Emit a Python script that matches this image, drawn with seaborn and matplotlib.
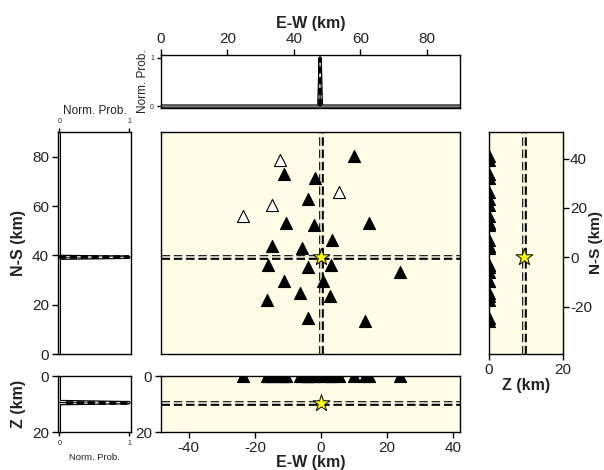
import numpy as np
import pandas as pd
import seaborn as sns
import matplotlib
matplotlib.use("Agg")
import matplotlib.pyplot as plt

sns.set_style("ticks")
plt.rcParams['font.family'] = ['Liberation Sans', 'DejaVu Sans']
plt.rcParams['axes.unicode_minus'] = False
for key in ['text.color', 'axes.labelcolor', 'xtick.color', 'ytick.color']:
    plt.rcParams[key] = '#222222'

# --- data ---
# stations, relative to the epicentre (km)
sta_ew = [9.9, -11.3, -1.9, -3.9, -10.5, -2.0, 14.5, 3.3, -14.8, -5.8, -16.1,
          -4.0, 2.9, 23.8, -11.2, 0.6, -6.3, 2.6, -16.4, -3.9, 13.3,
          -12.3, 5.5, -14.8, -23.5]
sta_ns = [40.9, 33.7, 32.1, 23.6, 13.9, 13.2, 13.9, 7.1, 4.7, 3.8, -3.1,
          -4.0, -3.1, -6.1, -9.7, -9.5, -14.5, -15.8, -17.2, -24.7, -25.8,
          39.5, 26.3, 21.2, 16.8]
sta_used = [True] * 21 + [False] * 4
sta_z = [0.0] * 25

# hypocentre
epi_ew, epi_ns, epi_z = 0.0, 0.0, 9.5
ew_abs, ns_abs = 47.9, 39.2   # absolute position in grid coordinates

# marginal probabilities
ew_grid = [0, 47.5, 47.9, 48.3, 90]
ew_prob = [0, 0, 1, 0, 0]
ns_grid = [0, 38.8, 39.2, 39.6, 90]
ns_prob = [0, 0, 1, 0, 0]
z_grid = [0, 9.1, 9.5, 9.9, 20]
z_prob = [0, 0, 1, 0, 0]

bg = '#FFFDE6'
ns_lim = (-ns_abs, 90 - ns_abs)
ew_lim = (-48.4, 42.0)

df_sta = pd.DataFrame({'ew': sta_ew, 'ns': sta_ns, 'z': sta_z, 'used': sta_used})
used = df_sta[df_sta.used]
unused = df_sta[~df_sta.used]

W, H = 604, 470
def box(x0, y0, x1, y1):
    return [x0 / W, 1 - y1 / H, (x1 - x0) / W, (y1 - y0) / H]

fig = plt.figure(figsize=(6.04, 4.70), dpi=100)
ax_main = fig.add_axes(box(161, 132, 460, 354))
ax_top = fig.add_axes(box(161, 55, 460, 108))
ax_left = fig.add_axes(box(58, 132, 131, 354))
ax_right = fig.add_axes(box(489, 132, 563, 354))
ax_bot = fig.add_axes(box(161, 376, 460, 432))
ax_bl = fig.add_axes(box(58, 376, 131, 432))


def crosshair(ax, vertical, val):
    f = ax.axvline if vertical else ax.axhline
    f(val, color='k', lw=3.4, dashes=(1.8, 0.8), zorder=1)
    f(val, color=bg, lw=1.1, zorder=1.1)


def stations(ax, x, y, mark_unused=True):
    kw = dict(marker='^', s=75, edgecolor='k', linewidth=0.8, zorder=3, legend=False)
    if mark_unused:
        sns.scatterplot(x=used[x], y=used[y], ax=ax, color='k', **kw)
        sns.scatterplot(x=unused[x], y=unused[y], ax=ax, color='white', **kw)
    else:
        sns.scatterplot(x=df_sta[x], y=df_sta[y], ax=ax, color='k', **kw)


def star(ax, x, y):
    ax.scatter([x], [y], marker='*', s=160, c='yellow', edgecolors='k',
               linewidths=0.7, zorder=4)


def pdf(ax, x, y, horizontal):
    if horizontal:
        sns.lineplot(x=x, y=y, ax=ax, color='k', lw=2.4, sort=False, estimator=None)
        sns.lineplot(x=x, y=y, ax=ax, color='white', lw=0.6, sort=False, estimator=None)
    else:
        sns.lineplot(x=y, y=x, ax=ax, color='k', lw=2.4, sort=False, estimator=None, orient='y')
        sns.lineplot(x=y, y=x, ax=ax, color='white', lw=0.6, sort=False, estimator=None, orient='y')


# main map view
for ax in [ax_main, ax_right, ax_bot]:
    ax.set_facecolor(bg)
crosshair(ax_main, True, epi_ew)
crosshair(ax_main, False, epi_ns)
stations(ax_main, 'ew', 'ns')
star(ax_main, epi_ew, epi_ns)
ax_main.set_xlim(*ew_lim)
ax_main.set_ylim(*ns_lim)
ax_main.set_xticks([])
ax_main.set_yticks([])
ax_main.set_xlabel('')
ax_main.set_ylabel('')

# depth vs N-S (right)
crosshair(ax_right, True, epi_z)
stations(ax_right, 'z', 'ns', mark_unused=False)
star(ax_right, epi_z, epi_ns)
ax_right.set_xlim(0, 20)
ax_right.set_ylim(*ns_lim)
ax_right.set_xticks([0, 20])
ax_right.set_yticks([-20, 0, 20, 40])
ax_right.yaxis.tick_right()
ax_right.yaxis.set_label_position('right')
ax_right.set_xlabel('Z (km)', fontsize=11.5, fontweight='bold', labelpad=1)
ax_right.set_ylabel('N-S (km)', fontsize=11, fontweight='bold', labelpad=-2)

# depth vs E-W (bottom)
crosshair(ax_bot, False, epi_z)
stations(ax_bot, 'ew', 'z', mark_unused=False)
star(ax_bot, epi_ew, epi_z)
ax_bot.set_xlim(*ew_lim)
ax_bot.set_ylim(20, 0)
ax_bot.set_xticks([-40, -20, 0, 20, 40])
ax_bot.set_yticks([0, 20])
ax_bot.set_xlabel('E-W (km)', fontsize=11.5, fontweight='bold', labelpad=0)
ax_bot.set_ylabel('')

# marginal E-W (top)
pdf(ax_top, ew_grid, ew_prob, True)
ax_top.plot([ew_abs, ew_abs], [0, 1], color='k', lw=2.6, dashes=(2, 1))
ax_top.set_xlim(0, 90)
ax_top.set_ylim(-0.04, 1.06)
ax_top.xaxis.tick_top()
ax_top.xaxis.set_label_position('top')
ax_top.set_xticks([0, 20, 40, 60, 80])
ax_top.set_yticks([0, 1])
ax_top.set_xlabel('E-W (km)', fontsize=11.5, fontweight='bold', labelpad=3)
ax_top.set_ylabel('Norm. Prob.', fontsize=8.5, labelpad=1)

# marginal N-S (left)
pdf(ax_left, ns_grid, ns_prob, False)
ax_left.plot([0, 1], [ns_abs, ns_abs], color='k', lw=2.6, dashes=(2, 1))
ax_left.set_ylim(0, 90)
ax_left.set_xlim(-0.02, 1.03)
ax_left.xaxis.tick_top()
ax_left.xaxis.set_label_position('top')
ax_left.set_xticks([0, 1])
ax_left.set_yticks([0, 20, 40, 60, 80])
ax_left.set_xlabel('Norm. Prob.', fontsize=8.5, labelpad=3)
ax_left.set_ylabel('N-S (km)', fontsize=11.5, fontweight='bold')

# marginal Z (bottom left)
pdf(ax_bl, z_grid, z_prob, False)
ax_bl.plot([0.1, 1], [epi_z, epi_z], color='k', lw=2.6, dashes=(2, 1))
ax_bl.set_ylim(20, 0)
ax_bl.set_xlim(-0.02, 1.03)
ax_bl.set_xticks([0, 1])
ax_bl.set_yticks([0, 20])
ax_bl.set_xlabel('Norm. Prob.', fontsize=6.8, labelpad=4)
ax_bl.set_ylabel('Z (km)', fontsize=11.5, fontweight='bold')

for ax in [ax_main, ax_top, ax_left, ax_right, ax_bot, ax_bl]:
    for sp in ax.spines.values():
        sp.set_visible(True)
        sp.set_color('k')
        sp.set_linewidth(1.0)
    ax.tick_params(labelsize=11, length=4, width=1, color='k', pad=2.5)
ax_right.tick_params(axis='y', pad=1)
ax_top.tick_params(axis='y', labelsize=5, length=3, pad=2)
ax_left.tick_params(axis='x', labelsize=5, length=3, pad=2)
ax_bl.tick_params(axis='x', labelsize=5, length=3, pad=3)

fig.savefig('out.png', dpi=100)
